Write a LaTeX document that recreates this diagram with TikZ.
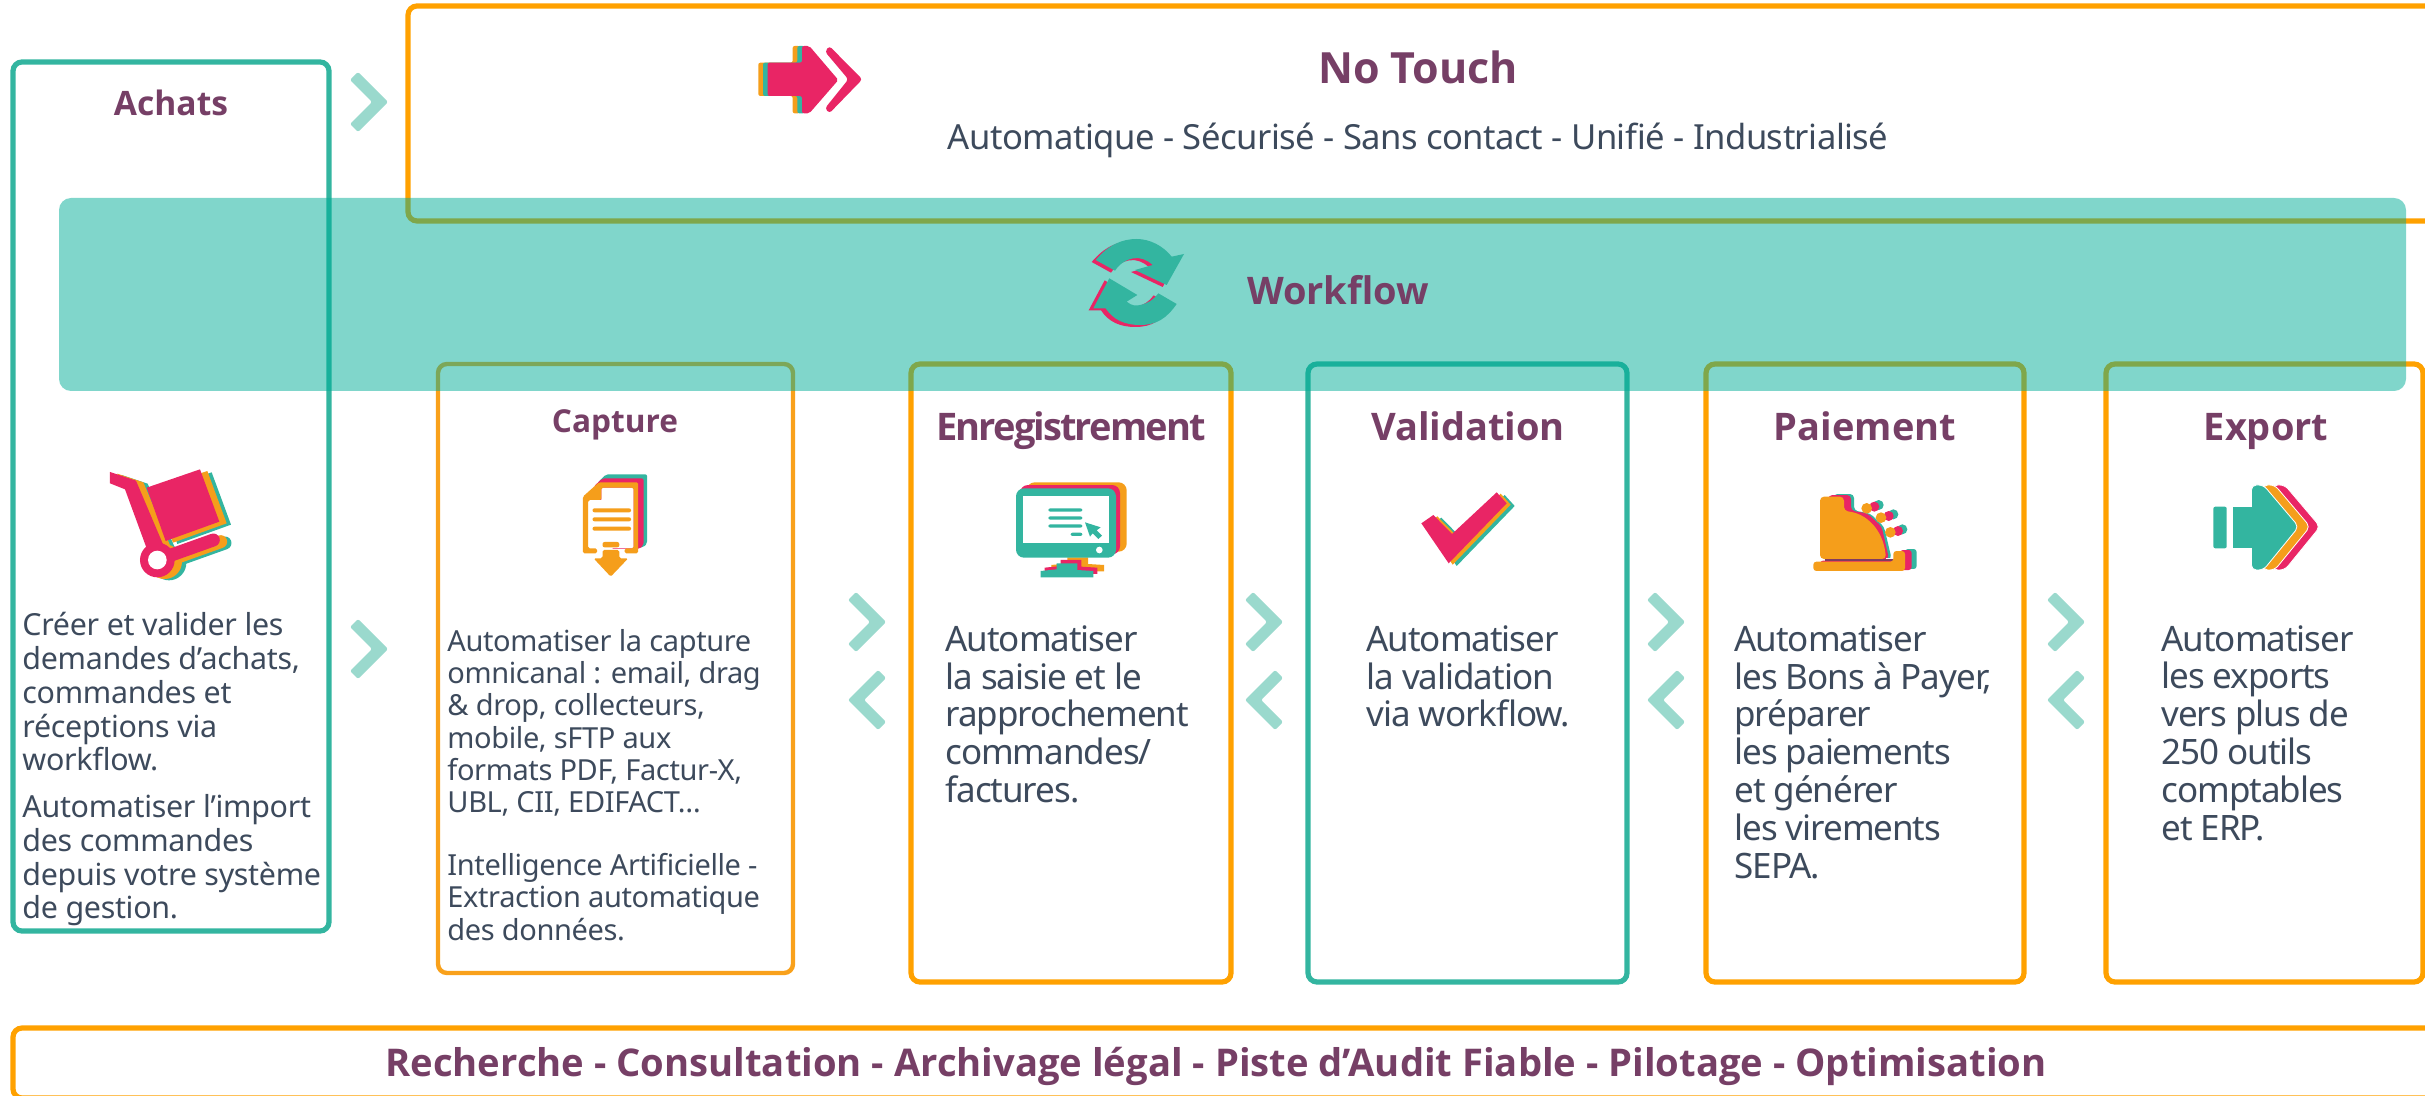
\documentclass[tikz,border=0pt]{standalone}
\usepackage{fontspec}
\setmainfont{Noto Sans}
\newfontfamily\osans{Open Sans}
\definecolor{tealC}{HTML}{33B5A0}
\definecolor{bandC}{HTML}{01AD97}
\definecolor{orangeC}{HTML}{FFA100}
\definecolor{orangeD}{HTML}{F9A11B}
\definecolor{orangeI}{HTML}{F59E1B}
\definecolor{pinkC}{HTML}{E92565}
\definecolor{chevC}{HTML}{9AD9CD}
\definecolor{plumC}{HTML}{763F66}
\definecolor{slateC}{HTML}{3D4A5C}
\tikzset{
 x=0.5pt,y=-0.5pt,
 obox/.style={draw=orangeC,line width=2.6pt,rounded corners=4.5pt},
 tbox/.style={draw=tealC,line width=2.6pt,rounded corners=4.5pt},
 chev/.style={fill=chevC,rounded corners=1pt},
 title/.style={text=plumC,font=\osans\bfseries\fontsize{19}{22}\selectfont,anchor=base,inner sep=0},
 bigtext/.style={text=slateC,anchor=north west,align=left,inner sep=0,font=\fontsize{17.5}{18.9}\selectfont\addfontfeature{LetterSpace=-3}},
 midtext/.style={text=slateC,anchor=north west,align=left,inner sep=0,font=\fontsize{15.2}{16.9}\selectfont\addfontfeature{LetterSpace=-1}},
 smalltext/.style={text=slateC,anchor=north west,align=left,inner sep=0,font=\fontsize{14.5}{16.1}\selectfont\addfontfeature{LetterSpace=-1.3}},
}
\newcommand{\chevR}[2]{\fill[chev,shift={(#1,#2)}] (-19,-22) -- (-11,-30) -- (19,0) -- (-11,30) -- (-19,22) -- (3,0) -- cycle;}
\newcommand{\chevL}[2]{\fill[chev,shift={(#1,#2)}] (19,-22) -- (11,-30) -- (-19,0) -- (11,30) -- (19,22) -- (-3,0) -- cycle;}
% cart, in zoom coordinates
\newcommand{\cartshape}[1]{%
 \fill[#1] (330,96) -- (408,122) -- (490,315) -- (440,325) -- (375,148) -- (330,130) -- cycle;
 \fill[#1] (440,143) -- (600,88) -- (658,245) -- (497,303) -- cycle;
 \fill[#1] (472,360) circle[radius=52];
 \draw[#1,line width=6.5pt,line cap=round] (500,350) -- (640,300);}
% monitor
\newcommand{\monbody}[1]{\fill[#1,rounded corners=4pt] (48,55) rectangle (348,263);}
\newcommand{\monstand}[1]{\fill[#1] (170,280) -- (232,280) -- (232,300) -- (280,303) -- (280,322) -- (122,322) -- (122,303) -- (170,298) -- cycle;}
% register
\newcommand{\regbase}[1]{\fill[#1,rounded corners=1.5pt] (100,245) -- (340,245) -- (340,213) -- (375,213) -- (375,273) -- (100,273) -- cycle;}
% export arrow head
\newcommand{\exphead}[1]{\fill[#1,rounded corners=2.5pt,draw=white,line width=.4pt] (1307,75) -- (1325,75) -- (1378,200) -- (1325,330) -- (1307,330) -- cycle;}
% check
\newcommand{\chk}[1]{\fill[#1] (62,190) -- (80,165) -- (108,222) -- (175,97) -- (190,130) -- (103,310) -- cycle;}
\begin{document}
\begin{tikzpicture}
\useasboundingbox (0,0) rectangle (2425,1096);
% boxes
\draw[tbox] (13,62) rectangle (329,931);
\draw[obox] (408,6) rectangle (2436,221);
\draw[obox,draw=orangeD,line width=2.2pt] (438,364) rectangle (793,973);
\draw[obox] (911,364) rectangle (1231,982);
\draw[tbox] (1308,364) rectangle (1627,982);
\draw[obox] (1706,364) rectangle (2024,982);
\draw[obox] (2106,364) rectangle (2423,982);
\draw[obox] (13,1028) rectangle (2436,1098);
% band
\fill[bandC,opacity=.5,rounded corners=6pt] (59,198) rectangle (2406,391);
% chevrons
\chevR{369}{102}
\chevR{369}{649}
\chevR{867}{622}\chevL{867}{700}
\chevR{1264}{622}\chevL{1264}{700}
\chevR{1666}{622}\chevL{1666}{700}
\chevR{2066}{622}\chevL{2066}{700}
% no-touch icon
\begin{scope}[shift={(700,0)},scale=1/3]
 \foreach \c/\d in {orangeI/0,tealC/14,pinkC/28}{
  \fill[\c,rounded corners=1pt] (175+\d,188) -- (278+\d,188) -- (278+\d,138) -- (300+\d,138) -- (387+\d,240) -- (300+\d,340) -- (278+\d,340) -- (278+\d,288) -- (175+\d,288) -- cycle;}
 \fill[pinkC,rounded corners=1.5pt] (375,155) -- (388,138) -- (487,238) -- (388,340) -- (375,325) -- (445,238) -- cycle;
\end{scope}
% workflow icon
\begin{scope}[shift={(700,0)},scale=1/3]
 \newcommand{\wftop}{(1187,780) .. controls (1225,735) and (1265,717) .. (1310,717) .. controls (1350,717) and (1390,738) .. (1415,770) -- (1452,762) -- (1400,855) -- (1305,810) -- (1358,795) .. controls (1340,778) and (1320,772) .. (1300,775) .. controls (1280,778) and (1260,790) .. (1245,812) -- cycle}
 \newcommand{\wfbot}{(1228,835) -- (1312,885) -- (1280,905) .. controls (1295,918) and (1310,918) .. (1320,915) .. controls (1345,910) and (1362,898) .. (1375,880) -- (1430,912) .. controls (1400,955) and (1370,975) .. (1320,975) .. controls (1275,975) and (1240,960) .. (1217,925) -- (1180,925) -- cycle}
 \fill[pinkC,shift={(-12,6)}] \wftop;
 \fill[pinkC,shift={(-14,6)}] \wfbot;
 \fill[tealC] \wftop;
 \fill[tealC] \wfbot;
\end{scope}
% cart
\begin{scope}[shift={(0,440)},scale=1/3]
 \begin{scope}[shift={(35,9)}]\cartshape{tealC}\end{scope}
 \begin{scope}[shift={(22,5)}]\cartshape{orangeI}\end{scope}
 \cartshape{pinkC}
 \fill[white] (472,360) circle[radius=28];
\end{scope}
% document
\begin{scope}[shift={(540,450)},xscale=1/2.8,yscale=1/3]
 \fill[tealC,rounded corners=1pt] (160,100) -- (185,73) -- (300,73) -- (300,280) -- (290,292) -- (270,292) -- cycle;
 \fill[pinkC,rounded corners=1pt] (150,110) -- (175,85) -- (290,85) -- (290,285) -- (278,297) -- (200,297) -- cycle;
 \fill[white] (135,150) -- (172,150) -- (172,113) -- (262,113) -- (262,295) -- (135,295) -- cycle;
 \fill[orangeI,rounded corners=.8pt] (120,140) -- (165,97) -- (275,97) -- (275,310) -- (237,310) -- (237,295) -- (262,295) -- (262,113) -- (172,113) -- (172,150) -- (135,150) -- (135,295) -- (160,295) -- (160,310) -- (120,310) -- cycle;
 \foreach \yy in {181,208,236}{\fill[orangeI,rounded corners=1pt] (147,\yy-6) rectangle (255,\yy+6);}
 \fill[orangeI,rounded corners=1pt] (175,276) rectangle (222,292);
 \fill[orangeI,rounded corners=.8pt] (175,300) -- (222,300) -- (222,325) -- (247,325) -- (198,380) -- (150,325) -- (175,325) -- cycle;
\end{scope}
% monitor
\begin{scope}[shift={(1000,470)},scale=1/3]
 \begin{scope}[shift={(32,-18)}]\monbody{orangeI}\monstand{orangeI}\end{scope}
 \begin{scope}[shift={(12,-10)}]\monbody{pinkC}\monstand{pinkC}\end{scope}
 \monbody{tealC}\monstand{tealC}
 \fill[white] (70,78) rectangle (326,218);
 \fill[white] (298,240) circle[radius=10];
 \foreach \yy in {120,144,168}{\fill[tealC,rounded corners=1pt] (145,\yy-5) rectangle (247,\yy+5);}
 \fill[tealC,rounded corners=1pt] (212,188) rectangle (247,198);
 \fill[tealC] (255,157) -- (302,172) -- (290,181) -- (306,197) -- (295,207) -- (278,190) -- (270,200) -- cycle;
\end{scope}
% check
\begin{scope}[shift={(1380,460)},xscale=1/1.5,yscale=1/3]
 \begin{scope}[shift={(12,8)}]\chk{tealC}\end{scope}
 \begin{scope}[shift={(6,4)}]\chk{orangeI}\end{scope}
 \chk{pinkC}
\end{scope}
% register
\begin{scope}[shift={(1780,480)},scale=1/3]
 \fill[tealC,rounded corners=2pt] (160,42) -- (222,42) -- (222,92) -- (270,100) -- (312,140) -- (335,237) -- (160,237) -- cycle;
 \fill[pinkC,rounded corners=2pt] (145,45) -- (213,45) -- (213,92) -- (262,100) -- (305,140) -- (327,237) -- (145,237) -- cycle;
 \fill[tealC] (296,75) circle[radius=15] (340,103) circle[radius=15] (367,148) circle[radius=15];
 \fill[pinkC] (283,80) circle[radius=15] (326,108) circle[radius=15] (354,153) circle[radius=15];
 \fill[orangeI] (260,85) circle[radius=16] (303,113) circle[radius=16] (331,157) circle[radius=16];
 \begin{scope}[shift={(35,-6)}]\regbase{tealC}\end{scope}
 \begin{scope}[shift={(20,-3)}]\regbase{pinkC}\end{scope}
 \fill[orangeI,rounded corners=2pt] (120,50) -- (192,50) -- (192,93) .. controls (260,100) and (310,150) .. (318,237) -- (120,237) -- cycle;
 \fill[white] (318,233) rectangle (340,237);
 \fill[slateC!60!pinkC] (135,238) rectangle (340,243);
 \regbase{orangeI}
\end{scope}
% export icon
\begin{scope}[shift={(1380,460)},xscale=1/1.5,yscale=1/3]
 \begin{scope}[shift={(32,0)}]\exphead{pinkC}\end{scope}
 \begin{scope}[shift={(17,0)}]\exphead{orangeI}\end{scope}
 \exphead{tealC}
 \fill[tealC,rounded corners=1pt] (1250,140) rectangle (1270,265);
 \fill[tealC] (1280,140) rectangle (1310,265);
\end{scope}
% titles
\node[title,font=\osans\bfseries\fontsize{21.5}{24}\selectfont] (tnt) at (1418,84) {No Touch};
\node[text=slateC,font=\fontsize{17.3}{20}\selectfont\addfontfeature{LetterSpace=-1.5},inner sep=0,anchor=base] (snt) at (1418,150) {Automatique - Sécurisé - Sans contact - Unifié - Industrialisé};
\node[title] (twf) at (1338,305) {Workflow};
\node[title,font=\osans\bfseries\fontsize{16.8}{20}\selectfont] (tac) at (171,116) {Achats};
\node[title,font=\osans\bfseries\fontsize{15.8}{20}\selectfont] (tca) at (615,433) {Capture};
\node[title,font=\osans\bfseries\fontsize{19}{22}\selectfont\addfontfeature{LetterSpace=-5}] (ten) at (1071,441) {Enregistrement};
\node[title] (tva) at (1468,441) {Validation};
\node[title] (tpa) at (1865,441) {Paiement};
\node[title] (tex) at (2266,441) {Export};
\node[title,font=\osans\bfseries\fontsize{19.1}{22}\selectfont] (tbo) at (1216,1076) {Recherche - Consultation - Archivage légal - Piste d’Audit Fiable - Pilotage - Optimisation};
% body text
\node[midtext] (bac) at (22,612) {Créer et valider les\\demandes d’achats,\\commandes et\\réceptions via\\workflow.\\[6.4pt]Automatiser l’import\\des commandes\\depuis votre système\\de gestion.};
\node[smalltext] (bca) at (447,629) {Automatiser la capture\\omnicanal : email, drag\\\& drop, collecteurs,\\mobile, sFTP aux\\formats PDF, Factur-X,\\UBL, CII, EDIFACT…\\[15.5pt]Intelligence Artificielle -\\Extraction automatique\\des données.};
\node[bigtext] (ben) at (945,625) {Automatiser\\la saisie et le\\rapprochement\\commandes/\\factures.};
\node[bigtext] (bva) at (1366,625) {Automatiser\\la validation\\via workflow.};
\node[bigtext] (bpa) at (1734,625) {Automatiser\\les Bons à Payer,\\préparer\\les paiements\\et générer\\les virements\\SEPA.};
\node[bigtext] (bex) at (2161,625) {Automatiser\\les exports\\vers plus de\\250 outils\\comptables\\et ERP.};
\end{tikzpicture}
\end{document}
